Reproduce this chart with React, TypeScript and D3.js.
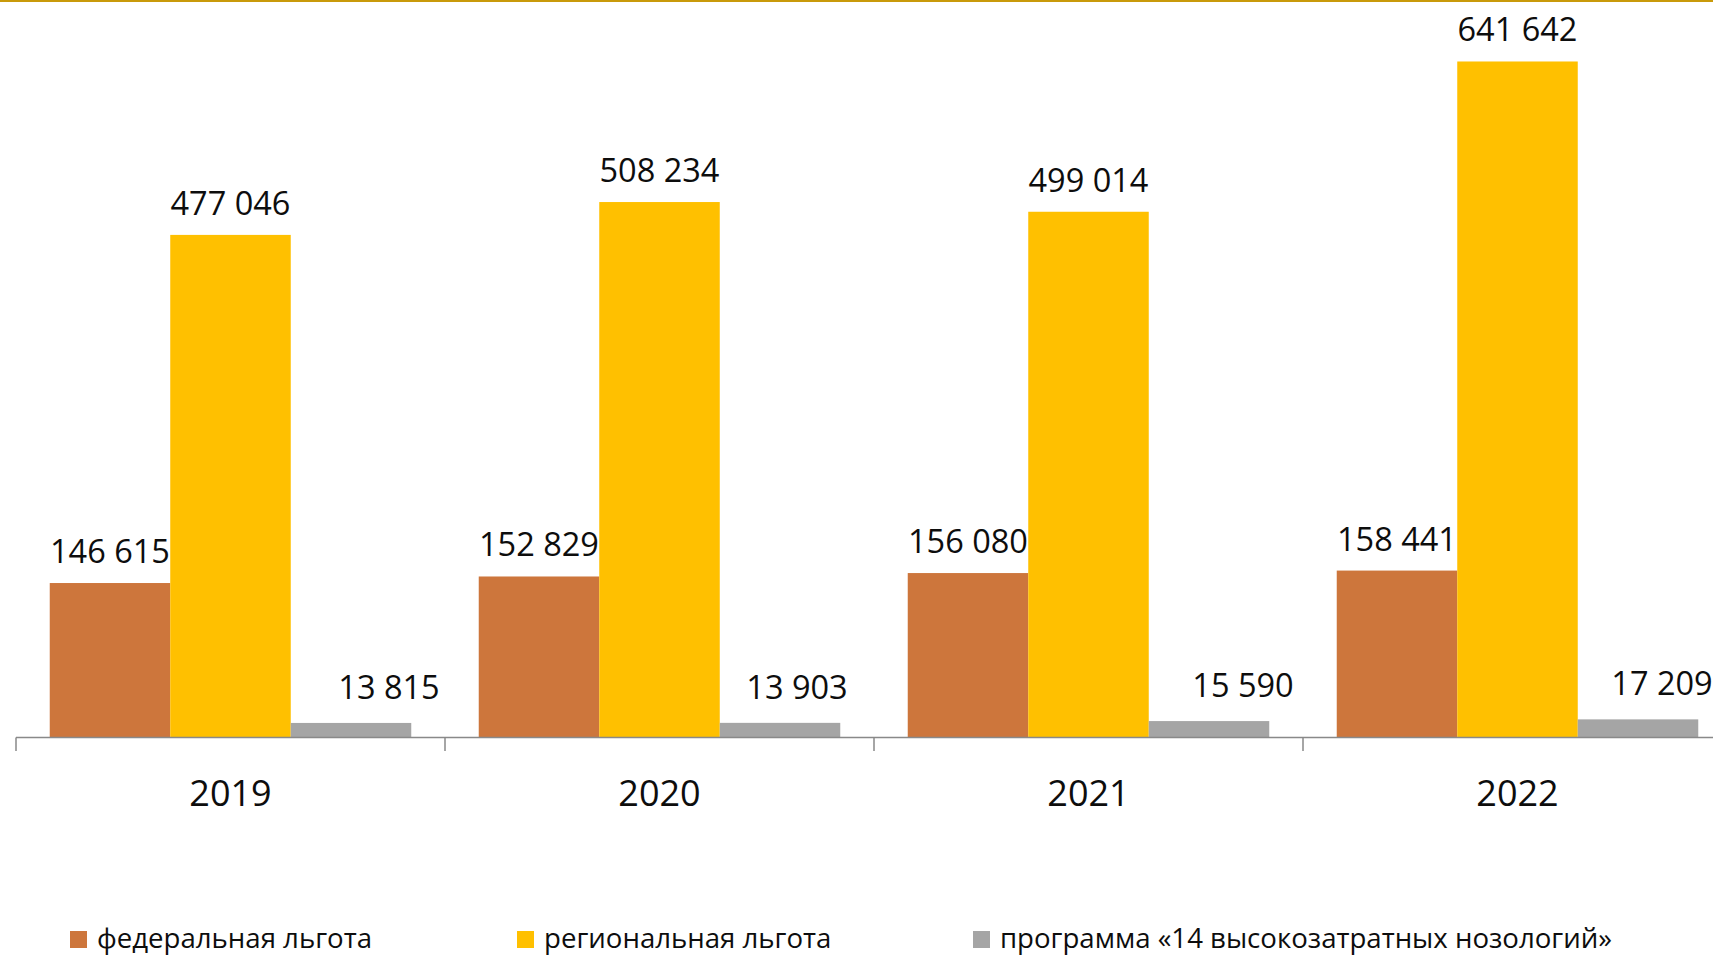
import React, { useEffect } from "react";
import * as d3 from "d3";

const years = ["2019", "2020", "2021", "2022"];
const seriesNames = ["федеральная льгота", "региональная льгота", "программа «14 высокозатратных нозологий»"];
const federal = [146615, 152829, 156080, 158441];
const regional = [477046, 508234, 499014, 641642];
const program14 = [13815, 13903, 15590, 17209];
const colors = ["#CD763C", "#FFC000", "#A5A5A5"];
// manual horizontal nudges of the grey-series labels (as placed in the source)
const greyLabelNudge = [38, 17, 34, 24];

const W = 1713;
const H = 957;

const fmt = (v: number) => {
  const s = String(v);
  return s.replace(/\B(?=(\d{3})+(?!\d))/g, " ");
};

export default function App() {
  useEffect(() => {
    document.body.style.margin = "0";
  }, []);

  const series = [federal, regional, program14];
  const x0 = d3.scaleBand<string>().domain(years).range([16, 16 + 429 * 4]).paddingInner(0).paddingOuter(0);
  const x1 = d3.scaleBand<number>().domain([0, 1, 2]).range([0, x0.bandwidth()]).paddingInner(0).paddingOuter(0.28);
  const y = d3.scaleLinear().domain([0, 700000]).range([737.5, 0]);
  const font = "'Open Sans', sans-serif";
  const baseY = y(0);

  const legendX = [70, 517, 973];

  return (
    <svg width={W} height={H} style={{ display: "block", background: "#fff" }} fontFamily={font}>
      <rect x={0} y={0} width={W} height={2} fill="#C99A0A" />
      {years.map((yr, i) => (
        <g key={yr}>
          {series.map((s, si) => {
            const bx = (x0(yr) as number) + (x1(si) as number);
            const bw = x1.bandwidth();
            const top = y(s[i]);
            const cx = bx + bw / 2 + (si === 2 ? greyLabelNudge[i] : 0);
            const ly = si === 2 ? top - 24 : top - 20;
            return (
              <g key={si}>
                <rect x={bx} y={top} width={bw} height={baseY - top} fill={colors[si]} />
                <text x={cx} y={ly} textAnchor="middle" fontSize={32.5} fill="#0d0d0d">
                  {fmt(s[i])}
                </text>
              </g>
            );
          })}
          <text x={(x0(yr) as number) + x0.bandwidth() / 2} y={806} textAnchor="middle" fontSize={36} fill="#0d0d0d">
            {yr}
          </text>
        </g>
      ))}
      <line x1={16} x2={W} y1={baseY} y2={baseY} stroke="#898989" strokeWidth={1.5} />
      {years.concat(["end"]).map((_, i) => {
        const tx = 16 + i * x0.step();
        return <line key={i} x1={tx} x2={tx} y1={baseY} y2={751} stroke="#898989" strokeWidth={1.5} />;
      })}
      {seriesNames.map((n, i) => (
        <g key={n}>
          <rect x={legendX[i]} y={931} width={17} height={17} fill={colors[i]} />
          <text x={legendX[i] + 27} y={948} fontSize={27.6} fill="#0d0d0d">
            {n}
          </text>
        </g>
      ))}
    </svg>
  );
}
